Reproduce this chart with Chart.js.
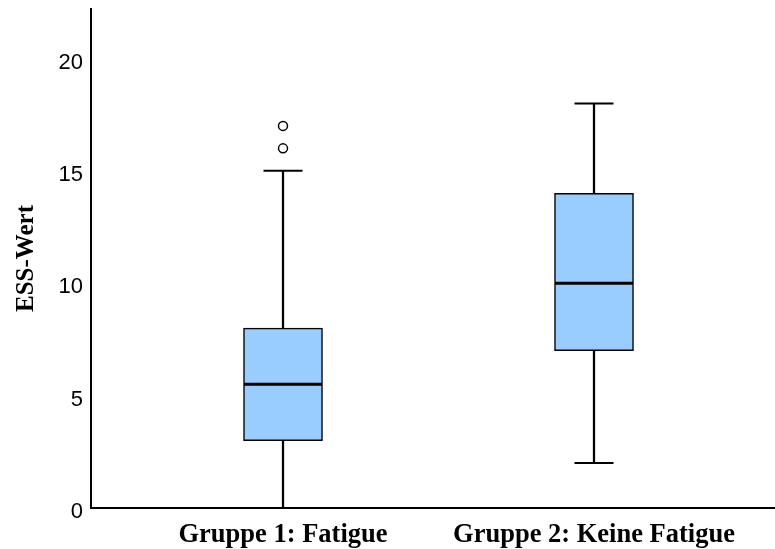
<!DOCTYPE html>
<html>
<head>
<meta charset="utf-8">
<script src="https://cdn.jsdelivr.net/npm/chart.js@4.4.1/dist/chart.umd.min.js"></script>
<style>
    html, body { margin: 0; padding: 0; background: #fff; }
    #wrap { width: 775px; height: 549px; position: relative; }
</style>
</head>
<body>
<div id="wrap"><canvas id="chartBox"></canvas></div>
<script>
// Daten
const groups = ['Gruppe 1: Fatigue', 'Gruppe 2: Keine Fatigue'];
const groupPos = [1, 2];
const whiskerLow = [0, 2];
const q1 = [3, 7];
const medians = [5.5, 10];
const q3 = [8, 14];
const whiskerHigh = [15, 18];
const outlierGroup = [1, 1];
const outlierValues = [16, 17];
const yTicks = [0, 5, 10, 15, 20];

const BOX_COLOR = '#99ccff';

// keine automatischen Ränder durch die Achsenbeschriftung
function noPadding(scale) {
    scale.paddingTop = 0;
    scale.paddingBottom = 0;
    scale.paddingLeft = 0;
    scale.paddingRight = 0;
}

new Chart(document.getElementById('chartBox'), {
    type: 'bar',
    data: {
        datasets: [
            {
                type: 'line',
                label: 'Ausreißer',
                data: outlierValues.map((v, i) => ({ x: outlierGroup[i], y: v })),
                showLine: false,
                pointStyle: 'circle',
                pointRadius: 4.5,
                pointBackgroundColor: '#fff',
                pointBorderColor: '#000',
                pointBorderWidth: 1.5,
                order: 0
            },
            {
                type: 'line',
                label: 'Median',
                data: medians.map((v, i) => ({ x: groupPos[i], y: v })),
                showLine: false,
                pointStyle: 'line',
                pointRadius: 39,
                pointBorderColor: '#000',
                pointBorderWidth: 3,
                order: 0
            },
            {
                type: 'line',
                label: 'Whisker oben',
                data: whiskerHigh.map((v, i) => ({ x: groupPos[i], y: v })),
                showLine: false,
                pointStyle: 'line',
                pointRadius: 19.5,
                pointBorderColor: '#000',
                pointBorderWidth: 2,
                order: 0
            },
            {
                type: 'line',
                label: 'Whisker unten',
                data: whiskerLow.map((v, i) => ({ x: groupPos[i], y: v })),
                showLine: false,
                pointStyle: 'line',
                pointRadius: 19.5,
                pointBorderColor: '#000',
                pointBorderWidth: 2,
                order: 0
            },
            {
                label: 'Box',
                data: q1.map((v, i) => ({ x: groupPos[i], y: [v, q3[i]] })),
                backgroundColor: BOX_COLOR,
                borderColor: '#000',
                borderWidth: 1.5,
                borderSkipped: false,
                barThickness: 79,
                grouped: false,
                order: 1
            },
            {
                label: 'Whisker',
                data: whiskerLow.map((v, i) => ({ x: groupPos[i], y: [v, whiskerHigh[i]] })),
                backgroundColor: '#000',
                borderWidth: 0,
                barThickness: 1.6,
                grouped: false,
                order: 2
            }
        ]
    },
    options: {
        responsive: true,
        maintainAspectRatio: false,
        animation: false,
        events: [],
        layout: {
            autoPadding: false,
            padding: { top: 9, right: 0, bottom: 0, left: 0 }
        },
        plugins: {
            legend: { display: false },
            tooltip: { enabled: false }
        },
        scales: {
            x: {
                type: 'linear',
                offset: false,
                min: 0.3826,
                max: 2.582,
                grid: { display: false, drawTicks: false },
                border: { display: true, color: '#000', width: 2 },
                afterBuildTicks: scale => {
                    scale.ticks = groupPos.map(v => ({ value: v }));
                },
                afterFit: scale => {
                    scale.height = 41;
                    noPadding(scale);
                },
                ticks: {
                    autoSkip: false,
                    maxRotation: 0,
                    padding: 11,
                    color: '#000',
                    font: { family: 'Liberation Serif', size: 26.5, weight: 'bold' },
                    callback: v => groups[groupPos.indexOf(v)]
                }
            },
            y: {
                type: 'linear',
                min: 0,
                max: 22.2,
                grid: { display: false, drawTicks: false },
                border: { display: true, color: '#000', width: 2 },
                afterBuildTicks: scale => {
                    scale.ticks = yTicks.map(v => ({ value: v }));
                },
                afterFit: scale => {
                    scale.width = 91;
                    noPadding(scale);
                },
                ticks: {
                    padding: 8,
                    labelOffset: 4,
                    color: '#000',
                    font: { family: 'Liberation Sans', size: 22 }
                },
                title: {
                    display: true,
                    text: 'ESS-Wert',
                    color: '#000',
                    padding: { top: 12, bottom: 0 },
                    font: { family: 'Liberation Serif', size: 25, weight: 'bold' }
                }
            }
        }
    }
});
</script>
</body>
</html>
